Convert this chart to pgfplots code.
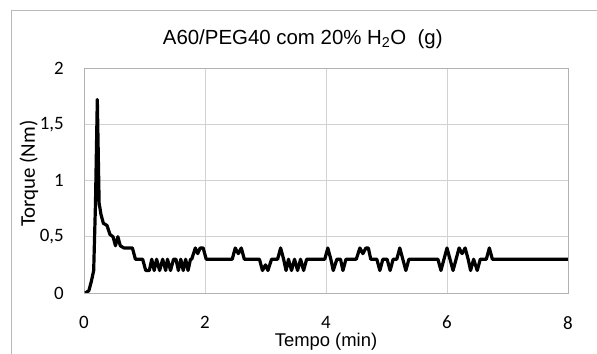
\documentclass[border=0pt]{standalone}
\usepackage{pgfplots}
\pgfplotsset{compat=1.18}
\usepackage{fontspec}
\setmainfont{Liberation Sans}
\newfontfamily\carlito{Carlito}
\begin{document}
\begin{tikzpicture}
\path[use as bounding box] (0,0) rectangle (597bp,354bp);
\draw[gray!55, line width=0.8bp] (11bp,0) -- (11bp,344bp) -- (597bp,344bp);
\begin{axis}[
  at={(84bp,61bp)}, anchor=south west,
  width=484bp, height=225bp, scale only axis,
  xmin=0, xmax=8, ymin=0, ymax=2,
  xtick={0,2,4,6,8}, ytick={0,0.5,1,1.5,2},
  yticklabels={0,{0,5},1,{1,5},2},
  xmajorgrids, ymajorgrids,
  grid style={gray!35, line width=0.7bp},
  axis line style={gray!60, line width=0.7bp},
  tick style={draw=none},
  /pgf/number format/assume math mode=true,
  ticklabel style={font=\carlito\fontsize{19}{22}\selectfont, inner sep=0pt},
  yticklabel style={anchor=east, xshift=-20bp},
  xticklabel style={anchor=north, yshift=-23bp},
  title={A60/PEG40 com 20\% H\textsubscript{2}O\ \ (g)},
  title style={font=\fontsize{20.5}{24}\selectfont, at={(axis description cs:0.452,1)}, anchor=center, yshift=23bp},
  xlabel={Tempo (min)},
  xlabel style={font=\fontsize{18.5}{22}\selectfont, at={(axis description cs:0.5,0)}, anchor=center, yshift=-49bp},
  ylabel={Torque (Nm)},
  ylabel style={font=\carlito\fontsize{21}{24}\selectfont, at={(axis description cs:-0.114,0.53)}, anchor=center},
]
\addplot[black, line width=3.2bp, line join=round] coordinates {
(0.02,0) (0.08,0.02) (0.12,0.1) (0.16,0.2) (0.19,0.8) (0.22,1.72) (0.25,0.8)
(0.28,0.7) (0.32,0.62) (0.38,0.6) (0.43,0.52) (0.48,0.5) (0.52,0.42) (0.56,0.5)
(0.6,0.42) (0.66,0.4) (0.72,0.4) (0.76,0.4) (0.8,0.4) (0.85,0.3) (0.92,0.3)
(0.97,0.3) (1.02,0.2) (1.08,0.2) (1.12,0.3) (1.16,0.2) (1.2,0.3) (1.25,0.2)
(1.3,0.3) (1.35,0.2) (1.38,0.3) (1.43,0.2) (1.48,0.3) (1.52,0.3) (1.56,0.2)
(1.6,0.3) (1.64,0.2) (1.68,0.3) (1.72,0.2) (1.76,0.3) (1.78,0.3) (1.84,0.4)
(1.88,0.35) (1.92,0.4) (1.97,0.4) (2.02,0.3) (2.45,0.3) (2.5,0.4) (2.55,0.35)
(2.6,0.4) (2.65,0.3) (2.9,0.3) (2.95,0.2) (3.0,0.25) (3.04,0.2) (3.1,0.3)
(3.2,0.3) (3.25,0.4) (3.3,0.3) (3.34,0.2) (3.38,0.3) (3.43,0.2) (3.48,0.3)
(3.53,0.2) (3.58,0.3) (3.63,0.2) (3.68,0.3) (3.98,0.3) (4.03,0.4) (4.08,0.3)
(4.12,0.2) (4.18,0.3) (4.24,0.3) (4.28,0.2) (4.33,0.3) (4.5,0.3) (4.56,0.4)
(4.61,0.35) (4.66,0.4) (4.7,0.4) (4.74,0.3) (4.84,0.3) (4.89,0.2) (4.94,0.3)
(5.01,0.3) (5.06,0.2) (5.11,0.3) (5.17,0.3) (5.22,0.4) (5.27,0.3) (5.32,0.2)
(5.37,0.3) (5.85,0.3) (5.9,0.2) (5.95,0.3) (6.0,0.4) (6.05,0.3) (6.1,0.2)
(6.15,0.3) (6.2,0.4) (6.25,0.35) (6.3,0.4) (6.35,0.3) (6.39,0.2) (6.44,0.3)
(6.5,0.2) (6.55,0.3) (6.65,0.3) (6.7,0.4) (6.75,0.3) (8.0,0.3)
};
\end{axis}
\end{tikzpicture}
\end{document}
